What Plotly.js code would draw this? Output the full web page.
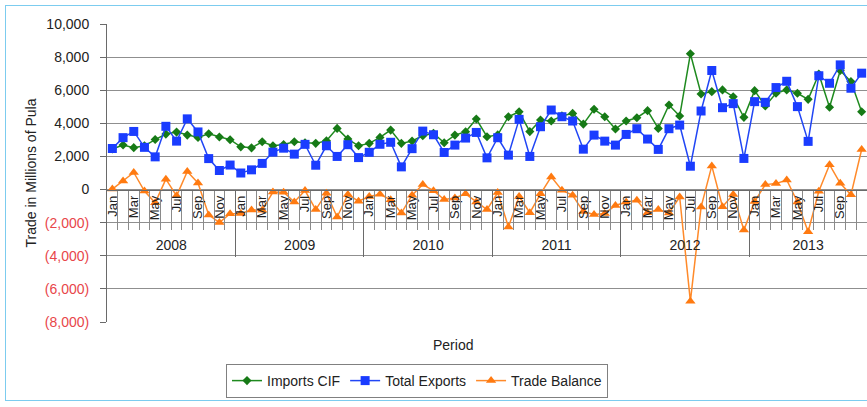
<!DOCTYPE html>
<html>
<head>
<meta charset="utf-8">
<script src="https://cdn.plot.ly/plotly-3.0.1.min.js"></script>
<style>
  html, body { margin: 0; padding: 0; background: #ffffff; overflow: hidden; }
  #chart { width: 867px; height: 407px; }
  #frame { position: absolute; left: 5px; top: 5px; width: 900px; height: 394px;
           border: 1px solid #7cccef; pointer-events: none; }
</style>
</head>
<body>
<div id="chart"></div>
<div id="frame"></div>
<script>
// ---- Data (millions of Pula), Jan 2008 - Nov 2013 ----
const months = ['Jan','Feb','Mar','Apr','May','Jun','Jul','Aug','Sep','Oct','Nov','Dec'];
const years = ['2008','2009','2010','2011','2012','2013'];

const importsCIF = [
  2450, 2690, 2530, 2640, 3020, 3350, 3470, 3290, 3150, 3370, 3170, 3010,
  2580, 2520, 2885, 2645, 2725, 2885, 2825, 2790, 2945, 3695, 3050, 2645,
  2790, 3150, 3590, 2790, 2935, 3250, 3400, 2825, 3290, 3490, 4260, 3190,
  3300, 4400, 4700, 3500, 4200, 4140, 4450, 4600, 3955, 4850, 4400, 3655,
  4140, 4340, 4765, 3695, 5110, 4440, 8200, 5775, 5915, 6020, 5610, 4360,
  5975, 5050, 5815, 6020, 5815, 5450, 6980, 4970, 7190, 6520, 4700
];
const totalExports = [
  2480, 3135, 3510, 2550, 1975, 3820, 2925, 4270, 3480, 1870, 1150, 1480,
  1000, 1190, 1580, 2260, 2500, 2140, 2730, 1470, 2645, 2000, 2710, 1930,
  2250, 2735, 2855, 1370, 2470, 3530, 3310, 2240, 2685, 3110, 3450, 1915,
  3130, 2080, 4240, 2000, 3795, 4805, 4400, 4140, 2440, 3290, 2925, 2685,
  3330, 3675, 3050, 2425, 3675, 3895, 1410, 4745, 7190, 4945, 5190, 1880,
  5310, 5270, 6160, 6540, 5010, 2910, 6875, 6420, 7530, 6120, 7030
];
const tradeBalance = [
    30,  520, 1030,  -90, -800,  630, -380, 1090,  400, -1530, -1990, -1455,
 -1450, -1230, -1250, -150, -160, -750,  -60, -1210, -220, -1660, -300, -700,
  -420, -285, -620, -1420, -345,  300,  -70, -600, -510, -260, -750, -1210,
  -180, -2265, -420, -1400, -260,  765,  -40, -345, -1330, -1500, -1450, -960,
  -750, -650, -1400, -1210, -1420, -450, -6750, -1060, 1430, -1040, -300, -2450,
  -720,  300,  360,  580, -750, -2550, -100, 1500,  380, -320, 2420
];

const yTickVals = [10000, 8000, 6000, 4000, 2000, 0, -2000, -4000, -6000, -8000];
const yTickText = ['10,000','8,000','6,000','4,000','2,000','0','(2,000)','(4,000)','(6,000)','(8,000)'];

// ---- Derived helpers ----
const n = importsCIF.length;
const idx = importsCIF.map((_, i) => i);
const periods = idx.map(i => months[i % 12] + ' ' + years[Math.floor(i / 12)]);
const monthTickVals = idx.filter(i => i % 2 === 0);
const monthTickText = monthTickVals.map(i => months[i % 12]);
const monthSeps = idx.slice(1).map(i => i - 0.5);
const yearCenters = years.map((_, k) => (k * 12 + Math.min(k * 12 + 11, n - 1)) / 2);
const yearBounds = years.slice(1).map((_, k) => (k + 1) * 12 - 0.5);

const yMin = -8000, yMax = 10000;
const posZero = (0 - yMin) / (yMax - yMin);
const posM2000 = (-2000 - yMin) / (yMax - yMin);
const xRange = [-0.5, n - 0.5];

const RED = '#e8464a';
const yText = yTickText.map((t, i) => yTickVals[i] < 0 ? '<span style="color:' + RED + '">' + t + '</span>' : t);

const FONT = 'Liberation Sans, Arial, sans-serif';

const traces = [
  { name: 'Imports CIF', x: idx, y: importsCIF, text: periods, type: 'scatter', mode: 'lines+markers',
    line: { color: '#1f8a1f', width: 1.5 }, marker: { symbol: 'diamond', size: 7, color: '#167a16' } },
  { name: 'Total Exports', x: idx, y: totalExports, text: periods, type: 'scatter', mode: 'lines+markers',
    line: { color: '#2146f5', width: 1.5 }, marker: { symbol: 'square', size: 9, color: '#1a3cff' } },
  { name: 'Trade Balance', x: idx, y: tradeBalance, text: periods, type: 'scatter', mode: 'lines+markers',
    line: { color: '#ff8a2a', width: 1.5 }, marker: { symbol: 'triangle-up', size: 9, color: '#ff7a10' } },
  // empty carriers so the category-divider / year-label axes get drawn
  { x: [], y: [], xaxis: 'x2', yaxis: 'y', type: 'scatter', mode: 'lines', showlegend: false, hoverinfo: 'skip' },
  { x: [], y: [], xaxis: 'x3', yaxis: 'y', type: 'scatter', mode: 'lines', showlegend: false, hoverinfo: 'skip' },
  { x: [], y: [], xaxis: 'x4', yaxis: 'y', type: 'scatter', mode: 'lines', showlegend: false, hoverinfo: 'skip' }
];

const layout = {
  width: 867, height: 407,
  margin: { l: 107, r: 0, t: 24, b: 85 },
  paper_bgcolor: '#ffffff', plot_bgcolor: '#ffffff',
  font: { family: FONT, size: 13, color: '#222' },
  showlegend: true,
  legend: {
    orientation: 'h', x: (417 - 107) / 760, xanchor: 'center', y: (322 - 364) / 298, yanchor: 'top',
    bordercolor: '#808080', borderwidth: 1, font: { size: 14, color: '#222' },
    itemwidth: 30, tracegroupgap: 0
  },
  yaxis: {
    range: [yMin, yMax], tickmode: 'array', tickvals: yTickVals, ticktext: yText,
    showgrid: true, gridcolor: '#8f8f8f', gridwidth: 1, zeroline: false,
    showline: true, linecolor: '#6a6a6a', linewidth: 1,
    ticks: 'outside', ticklen: 6, tickcolor: '#6a6a6a', ticklabelstandoff: 8,
    tickfont: { size: 14, color: '#222' },
    title: { text: 'Trade in Millions of Pula', font: { size: 14, color: '#222' }, standoff: 4 },
    fixedrange: true
  },
  xaxis: {
    range: xRange, anchor: 'free', position: posZero, showgrid: false, zeroline: false,
    showline: true, linecolor: '#6a6a6a', linewidth: 1,
    tickmode: 'array', tickvals: monthTickVals, ticktext: monthTickText,
    tickangle: -90, ticks: '', tickfont: { size: 13, color: '#222' }, fixedrange: true
  },
  xaxis2: {
    range: xRange, overlaying: 'x', anchor: 'free', position: posZero, showgrid: false, zeroline: false,
    showline: false, tickmode: 'array', tickvals: monthSeps, showticklabels: false,
    ticks: 'outside', ticklen: 39, tickcolor: '#8a8a8a', tickwidth: 1, fixedrange: true
  },
  xaxis3: {
    range: xRange, overlaying: 'x', anchor: 'free', position: posZero, showgrid: false, zeroline: false,
    showline: false, tickmode: 'array', tickvals: yearBounds, showticklabels: false,
    ticks: 'outside', ticklen: 66, tickcolor: '#6a6a6a', tickwidth: 1, fixedrange: true
  },
  xaxis4: {
    range: xRange, overlaying: 'x', anchor: 'free', position: posM2000, showgrid: false, zeroline: false,
    showline: false, tickmode: 'array', tickvals: yearCenters, ticktext: years,
    ticks: 'outside', ticklen: 10, tickcolor: 'rgba(0,0,0,0)', tickfont: { size: 14, color: '#222' },
    fixedrange: true
  },
  annotations: [
    { text: 'Period', xref: 'paper', yref: 'paper', x: (453 - 107) / 760, y: (322 - 345) / 298,
      xanchor: 'center', yanchor: 'middle', showarrow: false, font: { size: 14, color: '#222' } }
  ]
};

Plotly.newPlot('chart', traces, layout, { displayModeBar: false, staticPlot: true });
</script>
</body>
</html>
